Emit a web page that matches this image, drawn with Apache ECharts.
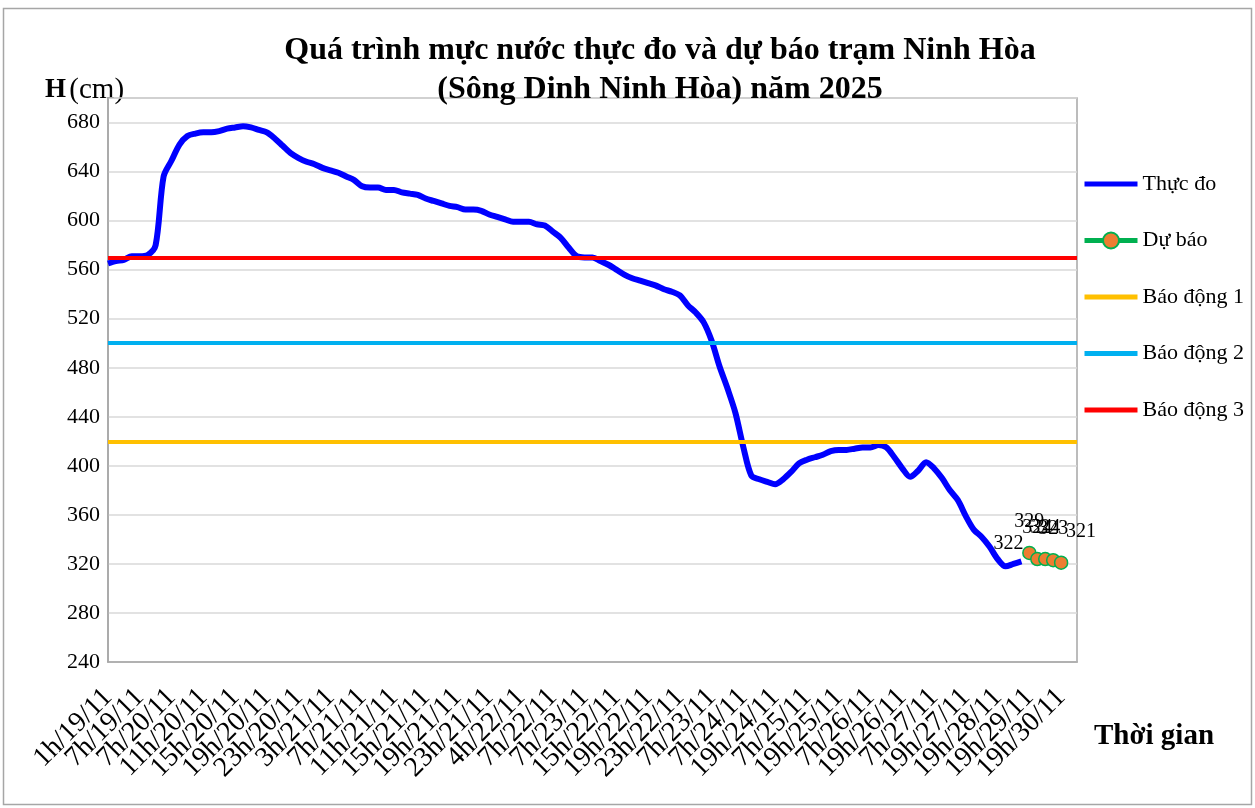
<!DOCTYPE html>
<html>
<head>
<meta charset="utf-8">
<script src="https://cdn.jsdelivr.net/npm/echarts@6/dist/echarts.min.js"></script>
<style>
html,body{margin:0;padding:0;background:#fff;}
#c{width:1255px;height:808px;}
</style>
</head>
<body>
<div id="c"></div>
<script>
// ---- DATA ----
const tickLabels = ['1h/19/11','7h/19/11','7h/20/11','11h/20/11','15h/20/11','19h/20/11','23h/20/11','3h/21/11','7h/21/11','11h/21/11','15h/21/11','19h/21/11','23h/21/11','4h/22/11','7h/22/11','7h/23/11','15h/22/11','19h/22/11','23h/22/11','7h/23/11','7h/24/11','19h/24/11','7h/25/11','19h/25/11','7h/26/11','19h/26/11','7h/27/11','19h/27/11','19h/28/11','19h/29/11','19h/30/11'];
const observed = [565,567,568,571,571,572,580,636,649,662,669,671,672,672,673,675,676,677,676,674,672,667,661,655,651,648,646,643,641,639,636,633,628,627,627,625,625,623,622,621,618,616,614,612,611,609,609,608,605,603,601,599,599,599,597,596,591,586,578,571,570,570,567,564,560,556,553,551,549,547,544,542,539,531,525,517,502,481,463,443,415,392,389,387,385,389,395,402,405,407,409,412,413,413,414,415,415,417,415,407,398,391,396,403,398,390,380,372,359,348,342,334,324,318,320,322];
const forecast = [329,324,324,323,321];
const alarm1 = 420, alarm2 = 500, alarm3 = 570;

// ---- LAYOUT ----
const CATEGORY_COUNT = 123, LABEL_STEP = 4;
const categories = Array.from({length: CATEGORY_COUNT}, (_, i) => (i % LABEL_STEP === 0 && tickLabels[i / LABEL_STEP]) ? tickLabels[i / LABEL_STEP] : '');
const serif = 'Liberation Serif, Times New Roman, serif';
const lineIcon = 'path://M0,0H53V5H0Z';

const obsData = observed.map((v, i) => i === observed.length - 1
  ? {value: v, symbol: 'circle', symbolSize: 2,
     itemStyle: {color: 'rgba(0,0,0,0)', borderWidth: 0},
     label: {show: true, position: 'top', offset: [-13, -2], fontFamily: serif, fontSize: 20, color: '#000', opacity: 1}}
  : v);
const fcData = new Array(observed.length).fill('-').concat(forecast.map((v, i) => {
  const lastOne = i === forecast.length - 1;
  return {value: v, label: {offset: lastOne ? [20, 0] : [0, 0]}};
}));

function alarmSeries(name, color, level) {
  return {
    name, type: 'line', data: [], symbol: 'none', color,
    lineStyle: {color, width: 4},
    markLine: {
      silent: true, symbol: 'none', animation: false,
      label: {show: false},
      lineStyle: {color, width: 4, type: 'solid'},
      data: [{yAxis: level}]
    }
  };
}

const chart = echarts.init(document.getElementById('c'), null, {renderer: 'canvas'});
chart.setOption({
  animation: false,
  backgroundColor: '#fff',
  title: {
    text: 'Quá trình mực nước thực đo và dự báo trạm Ninh Hòa\n(Sông Dinh Ninh Hòa) năm 2025',
    left: 660, top: 31, textAlign: 'center', padding: 0,
    textStyle: {fontFamily: serif, fontWeight: 'bold', fontSize: 32, lineHeight: 39, color: '#000'}
  },
  legend: {
    orient: 'vertical', left: 1082, top: 173, padding: 0,
    itemWidth: 53, itemHeight: 20, itemGap: 34.5,
    textStyle: {fontFamily: serif, fontSize: 22, color: '#000'},
    data: [
      {name: 'Thực đo', icon: lineIcon},
      {name: 'Dự báo', lineStyle: {width: 5}},
      {name: 'Báo động 1', icon: lineIcon},
      {name: 'Báo động 2', icon: lineIcon},
      {name: 'Báo động 3', icon: lineIcon}
    ]
  },
  grid: {left: 108, right: 178, top: 98, bottom: 146, show: true, borderColor: '#a6a6a6', borderWidth: 1.5},
  xAxis: {
    type: 'category', data: categories, boundaryGap: false,
    axisLine: {show: true, lineStyle: {color: '#a6a6a6', width: 1.5}},
    axisTick: {show: false},
    axisLabel: {interval: 0, rotate: 45, margin: 31, fontFamily: serif, fontSize: 28, color: '#000'},
    splitLine: {show: false}
  },
  yAxis: {
    type: 'value', min: 240, max: 700, interval: 40,
    axisLine: {show: true, lineStyle: {color: '#a6a6a6', width: 1.5}},
    axisTick: {show: false},
    axisLabel: {showMaxLabel: false, margin: 8, fontFamily: serif, fontSize: 22, color: '#000'},
    splitLine: {lineStyle: {color: '#d9d9d9', width: 1.5}}
  },
  series: [
    {
      name: 'Thực đo', type: 'line', data: obsData, smooth: 0.3, symbol: 'none',
      color: '#0000ff', lineStyle: {color: '#0000ff', width: 6}, z: 3
    },
    {
      name: 'Dự báo', type: 'line', data: fcData, smooth: false,
      symbol: 'circle', symbolSize: 13, showSymbol: true,
      color: '#00b050',
      lineStyle: {color: '#00b050', width: 4},
      itemStyle: {color: '#ed7d31', borderColor: '#00b050', borderWidth: 1.5},
      label: {show: true, position: 'top', distance: 14, fontFamily: serif, fontSize: 20, color: '#000'},
      z: 4
    },
    alarmSeries('Báo động 1', '#ffc000', alarm1),
    alarmSeries('Báo động 2', '#00b0f0', alarm2),
    alarmSeries('Báo động 3', '#ff0000', alarm3)
  ],
  graphic: [
    {type: 'rect', shape: {x: 3.5, y: 8.5, width: 1248, height: 796}, style: {fill: 'none', stroke: '#a6a6a6', lineWidth: 1.5}, silent: true, z: -10},
    {type: 'text', left: 45, top: 76, style: {
      text: '{b|H} {r|(cm)}',
      rich: {b: {fontFamily: serif, fontWeight: 'bold', fontSize: 27, fill: '#000'}, r: {fontFamily: serif, fontSize: 29, fill: '#000'}}
    }},
    {type: 'text', left: 1094, top: 722, style: {text: 'Thời gian', fontFamily: serif, fontWeight: 'bold', fontSize: 29, fill: '#000'}}
  ]
});
</script>
</body>
</html>
